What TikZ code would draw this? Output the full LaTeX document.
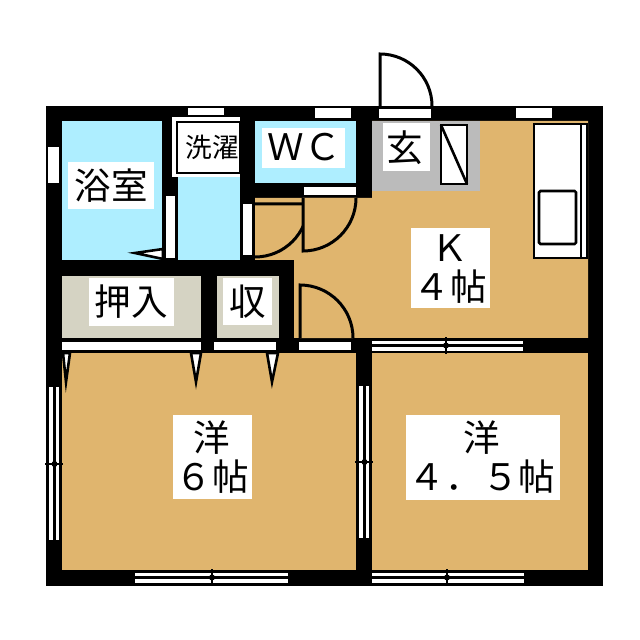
\documentclass[tikz,border=0pt]{standalone}
\usepackage{fontspec}
\setmainfont{Noto Sans CJK JP}
\definecolor{bathblue}{HTML}{AEEEFF}
\definecolor{floor}{HTML}{E0B56E}
\definecolor{closet}{HTML}{D5D3C3}
\definecolor{entry}{HTML}{BBBBBB}
\tikzset{
  thinline/.style={draw=black, line width=0.65mm},
  door/.style={draw=black, fill=floor, line width=0.75mm},
  opening/.style={fill=white},
  labbg/.style={fill=white},
  lab/.style={font=\fontsize{26}{26}\selectfont, inner sep=0pt},
  labs/.style={font=\fontsize{19}{19}\selectfont, inner sep=0pt},
  tick/.style={draw=black, line width=0.65mm}
}
\begin{document}
\begin{tikzpicture}[x=0.25mm,y=-0.25mm]
  \useasboundingbox (0,0) rectangle (640,640);
  \fill[white] (0,0) rectangle (640,640);
  \fill[black] (46,106) rectangle (603,586);

  % rooms
  \fill[bathblue] (62,121) rectangle (162,260);
  \fill[bathblue] (178,175) rectangle (240,260);
  \fill[bathblue] (255,121) rectangle (356,183);
  \fill[floor] (372,121) -- (588,121) -- (588,338) -- (294,338) -- (294,260)
    -- (255,260) -- (255,198) -- (372,198) -- cycle;
  \fill[entry] (372,121) rectangle (480,191);
  \fill[closet] (62,276) rectangle (201,338);
  \fill[closet] (217,276) rectangle (279,338);
  \fill[floor] (62,353) rectangle (356,570);
  \fill[floor] (372,353) rectangle (588,570);

  % band under the closets
  \fill[black] (46,338) rectangle (603,353);

  % openings in the walls
  \foreach \xa/\ya/\xb/\yb in {188/108/224/115, 315/108/351/118, 516/108/552/118,
      379/109/431/118, 48/147/59/183, 166/196/175/258, 243/204/252/255,
      304/187/356/195, 62/342/201/350, 214/342/276/350, 299/342/351/350}
    \fill[opening] (\xa,\ya) rectangle (\xb,\yb);

  % sliding windows, along x
  \foreach \xa/\xb/\xm/\ya in {372/523/446/341, 135/288/212/573, 372/524/447/573}{
    \fill[opening] (\xa,\ya) rectangle (\xb,\ya+10);
    \draw[thinline] (\xa,\ya+4.5) -- (\xb,\ya+4.5);
    \draw[tick] (\xm,\ya-4) -- (\xm,\ya+13);
    \fill[black] (\xm,\ya+4.5) circle (3);
  }
  % sliding windows, along y
  \foreach \ya/\yb/\ym/\xa in {387/540/464/49, 386/538/462/359}{
    \fill[opening] (\xa,\ya) rectangle (\xa+10,\yb);
    \draw[thinline] (\xa+5.5,\ya) -- (\xa+5.5,\yb);
    \draw[tick] (\xa-4,\ym) -- (\xa+14,\ym);
    \fill[black] (\xa+5.5,\ym) circle (3);
  }

  % washer place
  \fill[white] (172,117) rectangle (240,177);
  \draw[thinline] (177,122) rectangle (240,173);

  % doors
  \draw[door] (255,204) -- (308,204) arc (0:90:53);
  \draw[door] (303,198) -- (303,251) arc (90:0:53);
  \draw[door] (300,338) -- (300,285) arc (-90:0:53);
  \draw[door,fill=white] (380,106) -- (380,54) arc (-90:0:52);

  \draw[thinline,fill=white] (135,253) -- (163,249) -- (163,259) -- cycle;
  \foreach \xa/\xb/\xt in {63/70/66, 191/201/196, 267/278/272}
    \draw[thinline,fill=white] (\xa,353) -- (\xb,353) -- (\xt,382) -- cycle;

  % shoe box and kitchen
  \draw[thinline,fill=white] (441,125) rectangle (467,184);
  \draw[thinline] (441,125) -- (467,184);
  \draw[thinline,fill=white] (534,124) rectangle (587,258);
  \draw[thinline] (581,124) -- (581,258);
  \draw[thinline,rounded corners=1pt] (539,191) rectangle (576,244);

  % labels
  \fill[labbg] (68,162) rectangle (154,209);
  \node[lab] (bath) at (111,186) {浴室};
  \node[labs] (laundry) at (212,147) {洗濯};
  \fill[labbg] (262,128) rectangle (345,168);
  \node[lab] (wc) at (304,147) {ＷＣ};
  \fill[labbg] (383,123) rectangle (430,171);
  \node[lab] (genkan) at (405,148) {玄};
  \fill[labbg] (89,278) rectangle (174,326);
  \node[lab] (oshiire) at (131,302) {押入};
  \fill[labbg] (223,278) rectangle (272,325);
  \node[lab] (shuno) at (248,302) {収};
  \fill[labbg] (411,228) rectangle (490,308);
  \node[lab] (kitchen) at (450,248) {Ｋ};
  \node[lab] (kitchensize) at (450,287) {４帖};
  \fill[labbg] (173,415) rectangle (252,499);
  \node[lab] (western) at (212,438) {洋};
  \node[lab] (westernsize) at (212,477) {６帖};
  \fill[labbg] (406,415) rectangle (560,500);
  \node[lab] (westerntwo) at (482,438) {洋};
  \node[lab] (westerntwosize) at (482,477) {４．５帖};
\end{tikzpicture}
\end{document}
